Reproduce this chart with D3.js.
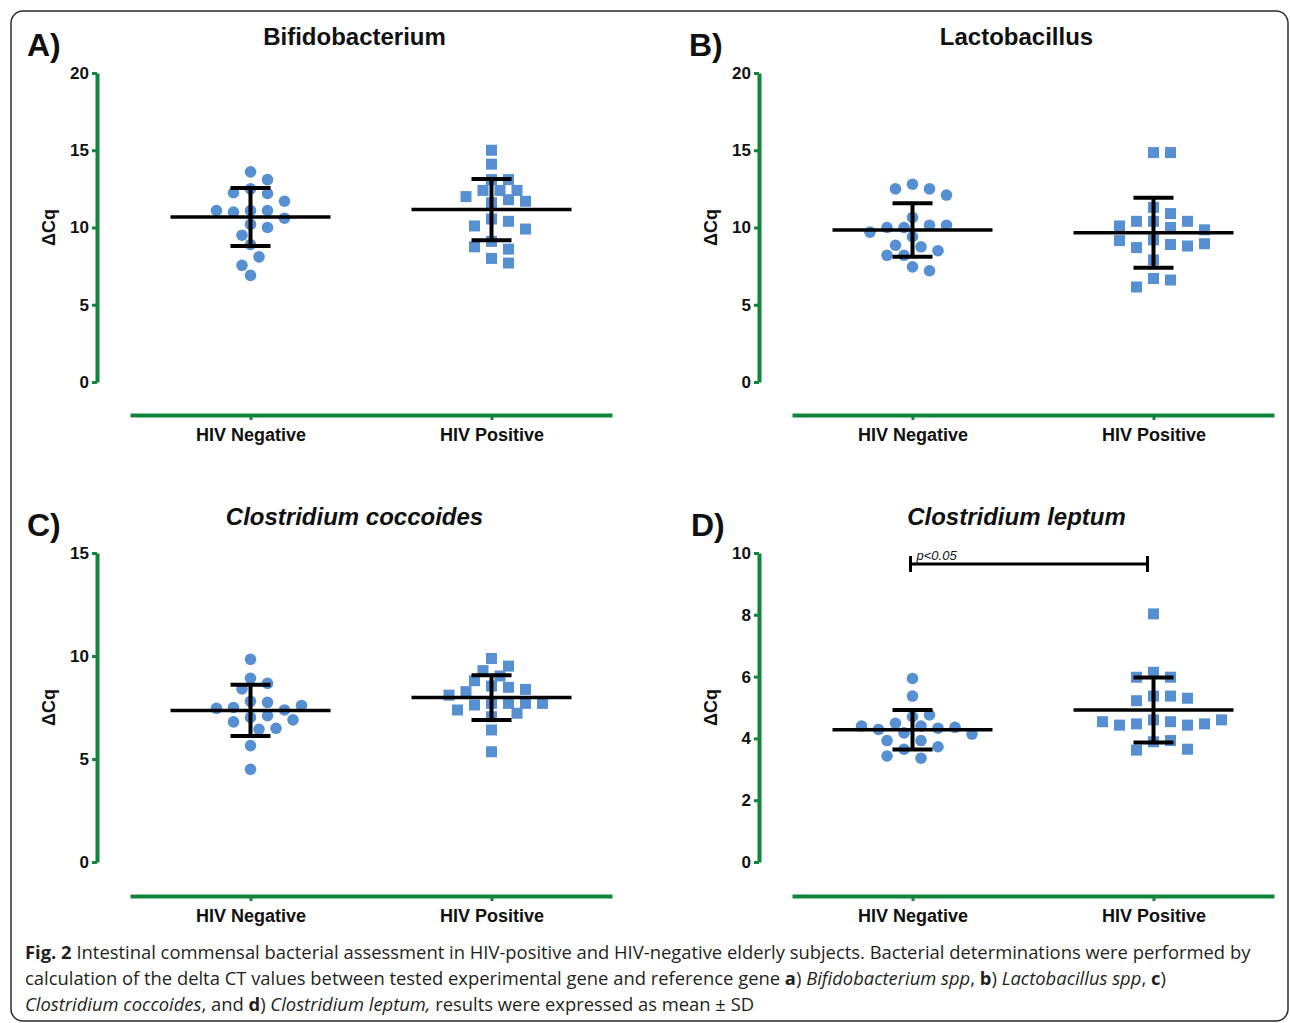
<!DOCTYPE html>
<meta charset="utf-8">
<style>
body { margin: 0; background: #fff; }
svg { font-family: "Liberation Sans", Arial, sans-serif; }
.caption { font-family: "Open Sans", sans-serif; font-size: 18.4px; fill: #231f20; }
</style>
<body>
<script src="https://d3js.org/d3.v7.min.js"></script>
<script>

var width = 1290,
    height = 1023;

// groups on the x axis
var groups = ["HIV Negative", "HIV Positive"];

// delta Cq values
var bifidoNeg = [13.6, 13.1, 12.5, 12.2, 12.25, 11.7, 11.1, 11.1, 11.0, 11.1, 10.6, 10.2, 10.0, 9.5, 8.9, 8.1, 7.55, 6.9];
var bifidoPos = [15.0, 14.1, 13.1, 13.1, 12.4, 12.4, 12.4, 12.0, 11.6, 11.8, 11.7, 10.55, 10.4, 10.1, 9.9, 9.1, 8.6, 8.75, 8.0, 7.7];
var bifidoMean = [10.68, 11.16];
var bifidoSd = [1.88, 1.98];

var lactoNeg = [12.8, 12.5, 12.5, 12.1, 10.65, 10.15, 10.0, 10.0, 10.15, 9.7, 9.4, 8.75, 8.85, 8.5, 8.2, 8.2, 7.45, 7.2];
var lactoPos = [14.85, 14.85, 11.3, 10.9, 10.4, 10.4, 10.4, 10.1, 10.0, 9.85, 9.2, 8.9, 8.7, 8.8, 9.15, 8.95, 7.9, 6.7, 6.6, 6.15];
var lactoMean = [9.84, 9.66];
var lactoSd = [1.73, 2.26];

var coccNeg = [9.84, 8.92, 8.67, 8.4, 7.8, 7.75, 7.5, 7.38, 7.46, 7.6, 7.02, 7.1, 6.8, 6.9, 6.44, 6.49, 5.65, 4.5];
var coccPos = [9.88, 9.51, 9.29, 9.03, 8.8, 8.54, 8.48, 8.38, 8.27, 8.1, 7.7, 7.7, 7.62, 7.7, 7.7, 7.38, 7.05, 7.22, 6.41, 5.35];
var coccMean = [7.36, 7.98];
var coccSd = [1.24, 1.09];

var leptNeg = [5.94, 5.37, 4.70, 4.76, 4.49, 4.40, 4.33, 4.29, 4.36, 4.40, 4.18, 4.14, 3.93, 3.93, 3.65, 3.73, 3.36, 3.43];
var leptPos = [8.03, 6.14, 5.98, 5.98, 5.37, 5.37, 5.22, 5.30, 4.6, 4.54, 4.47, 4.43, 4.43, 4.47, 4.54, 4.6, 3.89, 3.93, 3.62, 3.65];
var leptMean = [4.28, 4.92];
var leptSd = [0.64, 1.05];

// y axis ticks
var ticksAB = [0, 5, 10, 15, 20];
var ticksC = [0, 5, 10, 15];
var ticksD = [0, 2, 4, 6, 8, 10];

var green = "#13843b",
    blue = "#5690d2";

var svg = d3.select("body").append("svg")
    .attr("width", width)
    .attr("height", height);

// outer frame
svg.append("rect")
    .attr("x", 11).attr("y", 11)
    .attr("width", 1277).attr("height", 1010)
    .attr("rx", 12)
    .attr("fill", "none")
    .attr("stroke", "#2b2b2b")
    .attr("stroke-width", 1.5);

var panels = [
  {label: "A)", title: "Bifidobacterium", italic: false, neg: bifidoNeg, pos: bifidoPos, mean: bifidoMean, sd: bifidoSd,
   ticks: ticksAB, ax: 97, x0: 130, x1: 612, top: 73, bottom: 382, xAxisY: 415, lx: 27},
  {label: "B)", title: "Lactobacillus", italic: false, neg: lactoNeg, pos: lactoPos, mean: lactoMean, sd: lactoSd,
   ticks: ticksAB, ax: 759, x0: 792, x1: 1274, top: 73, bottom: 382, xAxisY: 415, lx: 689},
  {label: "C)", title: "Clostridium coccoides", italic: true, neg: coccNeg, pos: coccPos, mean: coccMean, sd: coccSd,
   ticks: ticksC, ax: 97, x0: 130, x1: 612, top: 553, bottom: 862, xAxisY: 896, lx: 27},
  {label: "D)", title: "Clostridium leptum", italic: true, neg: leptNeg, pos: leptPos, mean: leptMean, sd: leptSd,
   ticks: ticksD, ax: 759, x0: 792, x1: 1274, top: 553, bottom: 862, xAxisY: 896, lx: 691, sig: 9.64}
];

// greedy beeswarm: nudge each point sideways until it clears the others
function swarm(values, cx, y) {
  var step = 8.5, minDist = 12.5, placed = [];
  values.forEach(function(v) {
    var py = y(v);
    for (var k = 0; k < 40; k++) {
      var cands = k === 0 ? [0] : [k, -k];
      var found = null;
      for (var j = 0; j < cands.length; j++) {
        var px = cx + cands[j] * step;
        var ok = placed.every(function(p) {
          return Math.hypot(p.x - px, p.y - py) >= minDist;
        });
        if (ok) { found = px; break; }
      }
      if (found !== null) { placed.push({x: found, y: py, v: v}); break; }
    }
  });
  return placed;
}

panels.forEach(function(p) {
  var g = svg.append("g");

  var y = d3.scaleLinear()
      .domain([0, d3.max(p.ticks)])
      .range([p.bottom, p.top]);

  var x = d3.scalePoint()
      .domain(groups)
      .range([p.x0, p.x1])
      .padding(0.5);

  // y axis
  var yAxis = g.append("g")
      .attr("transform", "translate(" + p.ax + ",0)")
      .call(d3.axisLeft(y).tickValues(p.ticks).tickSize(5).tickSizeOuter(0).tickPadding(3));
  yAxis.select(".domain").attr("stroke", green).attr("stroke-width", 4);
  yAxis.selectAll(".tick line").attr("stroke", green).attr("stroke-width", 3);
  yAxis.selectAll(".tick text")
      .attr("fill", "#111")
      .style("font-size", "17px")
      .style("font-weight", "bold")
      .style("font-family", "Liberation Sans, Arial, sans-serif");

  // x axis
  var xAxis = g.append("g")
      .attr("transform", "translate(0," + p.xAxisY + ")")
      .call(d3.axisBottom(x).tickSize(5).tickSizeOuter(0).tickPadding(8));
  xAxis.select(".domain").attr("stroke", green).attr("stroke-width", 4);
  xAxis.selectAll(".tick line").attr("stroke", green).attr("stroke-width", 3);
  xAxis.selectAll(".tick text")
      .attr("fill", "#111")
      .style("font-size", "18px")
      .style("font-weight", "bold")
      .style("font-family", "Liberation Sans, Arial, sans-serif");

  // y label
  g.append("text")
      .attr("transform", "translate(" + (p.ax - 42) + "," + ((p.top + p.bottom) / 2) + ") rotate(-90)")
      .attr("text-anchor", "middle")
      .attr("font-size", 18)
      .attr("font-weight", "bold")
      .attr("fill", "#111")
      .text("\u0394Cq");

  // title
  g.append("text")
      .attr("x", (p.ax + p.x1) / 2)
      .attr("y", p.top - 28)
      .attr("text-anchor", "middle")
      .attr("font-size", 24)
      .attr("font-weight", "bold")
      .attr("font-style", p.italic ? "italic" : "normal")
      .attr("fill", "#111")
      .text(p.title);

  // panel letter
  g.append("text")
      .attr("x", p.lx)
      .attr("y", p.top - 17)
      .attr("font-size", 32)
      .attr("font-weight", "bold")
      .attr("fill", "#111")
      .text(p.label);

  // points
  var negPts = swarm(p.neg, x(groups[0]), y);
  var posPts = swarm(p.pos, x(groups[1]), y);

  g.selectAll(".neg").data(negPts).enter().append("circle")
      .attr("cx", function(d) { return d.x; })
      .attr("cy", function(d) { return d.y; })
      .attr("r", 5.8)
      .attr("fill", blue);

  g.selectAll(".pos").data(posPts).enter().append("rect")
      .attr("x", function(d) { return d.x - 5.5; })
      .attr("y", function(d) { return d.y - 5.5; })
      .attr("width", 11)
      .attr("height", 11)
      .attr("fill", blue);

  // mean +- SD
  groups.forEach(function(grp, i) {
    var cx = x(grp), m = p.mean[i], s = p.sd[i];
    g.append("line")
        .attr("x1", cx - 80).attr("x2", cx + 80)
        .attr("y1", y(m)).attr("y2", y(m))
        .attr("stroke", "#000").attr("stroke-width", 3.5);
    g.append("line")
        .attr("x1", cx).attr("x2", cx)
        .attr("y1", y(m + s)).attr("y2", y(m - s))
        .attr("stroke", "#000").attr("stroke-width", 4);
    [m + s, m - s].forEach(function(v) {
      g.append("line")
          .attr("x1", cx - 20).attr("x2", cx + 20)
          .attr("y1", y(v)).attr("y2", y(v))
          .attr("stroke", "#000").attr("stroke-width", 4);
    });
  });

  // significance bar
  if (p.sig) {
    var xa = x(groups[0]) - 2, xb = x(groups[1]) - 6, yy = y(p.sig);
    g.append("path")
        .attr("d", "M" + xa + "," + (yy - 8) + "V" + (yy + 8) + "M" + xa + "," + yy + "H" + xb + "M" + xb + "," + (yy - 8) + "V" + (yy + 8))
        .attr("fill", "none")
        .attr("stroke", "#000")
        .attr("stroke-width", 3);
    g.append("text")
        .attr("x", xa + 6)
        .attr("y", yy - 4)
        .attr("font-size", 13)
        .attr("font-style", "italic")
        .attr("fill", "#111")
        .text("p<0.05");
  }
});

// caption
var captionLines = [
  [["Fig. 2", "b"], [" Intestinal commensal bacterial assessment in HIV-positive and HIV-negative elderly subjects. Bacterial determinations were performed by", ""]],
  [["calculation of the delta CT values between tested experimental gene and reference gene ", ""], ["a", "b"], [") ", ""], ["Bifidobacterium spp", "i"], [", ", ""], ["b", "b"], [") ", ""], ["Lactobacillus spp", "i"], [", ", ""], ["c", "b"], [")", ""]],
  [["Clostridium coccoides", "i"], [", and ", ""], ["d", "b"], [") ", ""], ["Clostridium leptum,", "i"], [" results were expressed as mean \u00b1 SD", ""]]
];

captionLines.forEach(function(line, i) {
  var t = svg.append("text")
      .attr("class", "caption")
      .attr("x", 25)
      .attr("y", 959 + i * 26)
      .attr("xml:space", "preserve");
  line.forEach(function(seg) {
    t.append("tspan")
        .attr("font-weight", seg[1] === "b" ? "bold" : "normal")
        .attr("font-style", seg[1] === "i" ? "italic" : "normal")
        .text(seg[0]);
  });
});

</script>
